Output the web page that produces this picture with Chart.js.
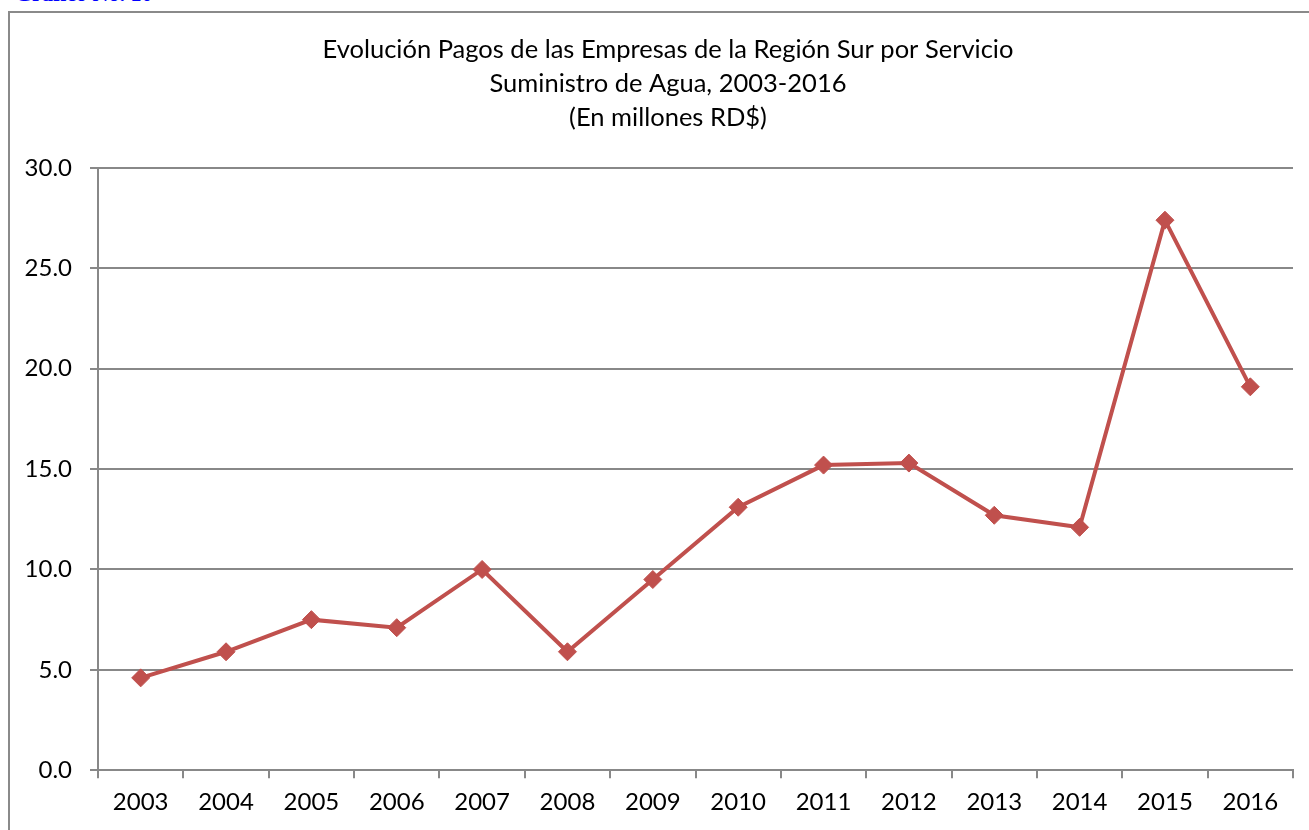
<!DOCTYPE html>
<html>
<head>
<meta charset="utf-8">
<script src="https://cdn.jsdelivr.net/npm/chart.js@4"></script>
<style>
  html, body { margin: 0; padding: 0; background: #fff; overflow: hidden; width: 1309px; height: 830px; }
  #caption { position: absolute; left: 15px; top: -17px; font: bold 22px "Liberation Serif", serif; color: #0000ff; line-height: 22px; }
  #frame { position: absolute; left: 8px; top: 11px; width: 1318px; height: 840px; border: 2px solid #8a8a8a; }
  #wrap { position: absolute; left: 10px; top: 13px; width: 1318px; height: 830px; }
</style>
</head>
<body>
<div id="caption">Gráfico No. 10</div>
<div id="frame"></div>
<div id="wrap"><canvas id="pagosChart"></canvas></div>
<script>
const years = ['2003', '2004', '2005', '2006', '2007', '2008', '2009', '2010', '2011', '2012', '2013', '2014', '2015', '2016'];
const pagos = [4.6, 5.9, 7.5, 7.1, 10.0, 5.9, 9.5, 13.1, 15.2, 15.3, 12.7, 12.1, 27.4, 19.1];
const titleLines = [
    'Evolución Pagos de las Empresas de la Región Sur por Servicio',
    'Suministro de Agua, 2003-2016',
    '(En millones RD$)'
];

const lineColor = '#c0504d';
const gridColor = '#888888';

// title is centred on the whole chart frame, not on the plot, so draw it by hand
const frameTitle = {
    id: 'frameTitle',
    afterDraw(chart) {
        const c = chart.ctx;
        c.save();
        c.fillStyle = '#000';
        c.font = '25.5px Lato';
        c.textAlign = 'center';
        c.textBaseline = 'middle';
        titleLines.forEach((line, i) => c.fillText(line, 658, 37 + i * 34));
        c.restore();
    }
};

const ctx = document.getElementById('pagosChart').getContext('2d');
const myChart = new Chart(ctx, {
    type: 'line',
    data: {
        labels: years,
        datasets: [{
            label: 'Pagos',
            data: pagos,
            borderColor: lineColor,
            backgroundColor: lineColor,
            borderWidth: 4,
            pointStyle: 'rectRot',
            pointRadius: 9,
            pointHoverRadius: 9,
            pointBackgroundColor: lineColor,
            pointBorderColor: lineColor,
            pointBorderWidth: 1,
            tension: 0
        }]
    },
    options: {
        responsive: true,
        maintainAspectRatio: false,
        animation: false,
        layout: {
            padding: { left: 0, right: 35, top: 155, bottom: 16 }
        },
        plugins: {
            legend: { display: false },
            tooltip: { enabled: false },
            title: { display: false }
        },
        scales: {
            x: {
                offset: true,
                grid: {
                    offset: true,
                    drawOnChartArea: false,
                    tickLength: 8,
                    color: gridColor,
                    lineWidth: 2
                },
                border: { color: gridColor, width: 2 },
                ticks: {
                    color: '#000',
                    font: { family: 'Lato', size: 24 },
                    padding: 10,
                    maxRotation: 0
                }
            },
            y: {
                min: 0,
                max: 30,
                afterFit: scale => { scale.width = 88; },
                grid: {
                    tickLength: 8,
                    color: gridColor,
                    lineWidth: 2
                },
                border: { color: gridColor, width: 2 },
                ticks: {
                    stepSize: 5,
                    color: '#000',
                    font: { family: 'Lato', size: 24 },
                    padding: 18,
                    callback: v => v.toFixed(1)
                }
            }
        }
    },
    plugins: [frameTitle]
});
</script>
</body>
</html>
